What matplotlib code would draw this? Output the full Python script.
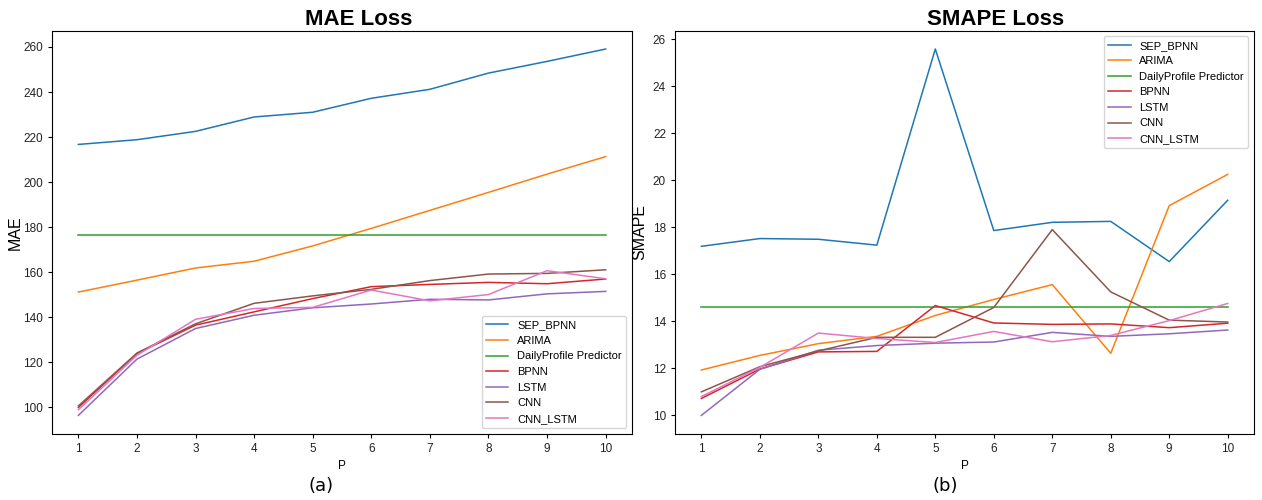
import matplotlib
matplotlib.use("Agg")
import matplotlib.pyplot as plt

plt.rcParams['font.family'] = ['Liberation Sans', 'DejaVu Sans']

p_values = [1, 2, 3, 4, 5, 6, 7, 8, 9, 10]
model_names = ['SEP_BPNN', 'ARIMA', 'DailyProfile Predictor', 'BPNN', 'LSTM', 'CNN', 'CNN_LSTM']

# MAE per model for each P
mae_sep_bpnn = [216.7, 218.8, 222.5, 228.9, 231.0, 237.2, 241.2, 248.4, 253.6, 259.1]
mae_arima = [151.1, 156.4, 161.8, 164.8, 171.6, 179.4, 187.4, 195.4, 203.5, 211.3]
mae_daily = [176.5, 176.5, 176.5, 176.5, 176.5, 176.5, 176.5, 176.5, 176.5, 176.5]
mae_bpnn = [99.8, 123.8, 136.4, 142.3, 148.2, 153.5, 154.5, 155.4, 154.8, 156.9]
mae_lstm = [96.3, 121.3, 134.9, 140.8, 144.1, 145.8, 147.9, 147.6, 150.3, 151.4]
mae_cnn = [100.5, 124.0, 137.0, 146.1, 149.4, 152.3, 156.2, 159.1, 159.4, 161.0]
mae_cnn_lstm = [98.8, 123.0, 139.0, 143.8, 144.3, 152.0, 147.2, 150.0, 160.6, 157.0]

# SMAPE per model for each P
smape_sep_bpnn = [17.19, 17.52, 17.49, 17.24, 25.58, 17.86, 18.21, 18.25, 16.54, 19.15]
smape_arima = [11.93, 12.55, 13.05, 13.36, 14.25, 14.93, 15.56, 12.64, 18.92, 20.25]
smape_daily = [14.59, 14.59, 14.59, 14.59, 14.59, 14.59, 14.59, 14.59, 14.59, 14.59]
smape_bpnn = [10.72, 11.97, 12.70, 12.72, 14.67, 13.93, 13.87, 13.89, 13.73, 13.92]
smape_lstm = [10.00, 11.96, 12.77, 12.97, 13.07, 13.12, 13.53, 13.36, 13.47, 13.63]
smape_cnn = [11.00, 12.07, 12.74, 13.32, 13.32, 14.59, 17.90, 15.25, 14.05, 13.97]
smape_cnn_lstm = [10.80, 12.04, 13.50, 13.27, 13.10, 13.57, 13.13, 13.40, 14.03, 14.76]

mae_series = [mae_sep_bpnn, mae_arima, mae_daily, mae_bpnn, mae_lstm, mae_cnn, mae_cnn_lstm]
smape_series = [smape_sep_bpnn, smape_arima, smape_daily, smape_bpnn, smape_lstm, smape_cnn, smape_cnn_lstm]

fig = plt.figure(figsize=(12.62, 5.0), dpi=100)
ax1 = fig.add_axes([0.0412, 0.1326, 0.4596, 0.806])
ax2 = fig.add_axes([0.5349, 0.1326, 0.4588, 0.806])


def draw_panel(ax, series, title, ylabel, legend_loc, title_x, labelpad):
    for name, vals in zip(model_names, series):
        ax.plot(p_values, vals, linewidth=1.1, label=name)
    ax.set_title(title, fontsize=16, fontweight='bold', x=title_x, pad=4)
    ax.set_ylabel(ylabel, fontsize=11.5, labelpad=labelpad)
    ax.set_xlabel('P', fontsize=8.5)
    ax.set_xticks(p_values)
    ax.tick_params(labelsize=8.5, length=3, labelcolor='#222222')
    ax.legend(loc=legend_loc, fontsize=8, labelspacing=0.5, handlelength=2.0)


draw_panel(ax1, mae_series, 'MAE Loss', 'MAE', 'lower right', 0.529, 0)
draw_panel(ax2, smape_series, 'SMAPE Loss', 'SMAPE', 'upper right', 0.554, 4)

fig.text(321 / 1262, 1 - 486 / 500, '(a)', fontsize=13, family='DejaVu Sans',
         ha='center', va='center')
fig.text(945 / 1262, 1 - 486 / 500, '(b)', fontsize=13, family='DejaVu Sans',
         ha='center', va='center')

fig.savefig('out.png', dpi=100, facecolor='white')
